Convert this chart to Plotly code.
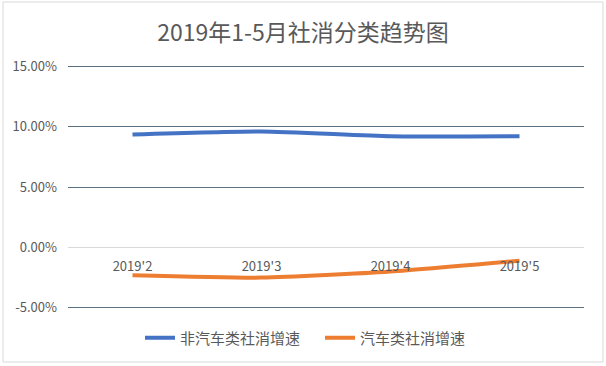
import plotly.graph_objects as go

categories = ["2019'2", "2019'3", "2019'4", "2019'5"]
non_auto = [9.35, 9.6, 9.2, 9.2]
auto = [-2.3, -2.5, -2.0, -1.1]
y_ticks = [-5, 0, 5, 10, 15]
y_tick_labels = ["-5.00%", "0.00%", "5.00%", "10.00%", "15.00%"]

W, H = 606, 366
L, R, T, B = 68, 22, 65, 57
pw, ph = W - L - R, H - T - B
YMIN, YMAX = -5.1, 15.1
FONT = "Noto Sans CJK SC"

def px(x):
    return (x - L) / pw

def py(y):
    return (H - B - y) / ph

fig = go.Figure()
fig.add_trace(go.Scatter(x=categories, y=non_auto, name="非汽车类社消增速", mode="lines",
                         line=dict(color="#4472C4", width=4, shape="spline", smoothing=0.6)))
fig.add_trace(go.Scatter(x=categories, y=auto, name="汽车类社消增速", mode="lines",
                         line=dict(color="#ED7D31", width=4, shape="spline", smoothing=0.6)))

y0_pos = (0 - YMIN) / (YMAX - YMIN)

fig.update_layout(
    width=W, height=H,
    margin=dict(l=L, r=R, t=T, b=B, autoexpand=False),
    paper_bgcolor="white", plot_bgcolor="white",
    font=dict(family=FONT, color="#595959", size=13),
    title=dict(text="2019年1-5月社消分类趋势图", x=0.5, xref="container", xanchor="center",
               yref="container", y=1 - 33 / H, yanchor="middle",
               font=dict(size=23, color="#595959", family=FONT)),
    xaxis=dict(type="category", anchor="free", position=y0_pos, showgrid=False, showline=False,
               zeroline=False, ticks="", tickfont=dict(size=13, color="#595959"),
               range=[-0.5, 3.5], ticklabelstandoff=10),
    yaxis=dict(range=[YMIN, YMAX], tickvals=y_ticks, ticktext=y_tick_labels, showgrid=True,
               gridcolor="#5a6f80", gridwidth=1, zeroline=True, zerolinecolor="#d9d9d9",
               zerolinewidth=1, showline=False, ticks="", tickfont=dict(size=13, color="#595959"),
               ticklabelstandoff=10),
    legend=dict(orientation="h", x=140 / W, xref="container", xanchor="left", yref="container",
                y=1 - 338 / H, yanchor="middle", entrywidth=135,
                font=dict(size=15, color="#595959"), traceorder="normal"),
    showlegend=True,
)

fig.add_shape(type="rect", xref="paper", yref="paper", x0=px(3), x1=px(603), y0=py(362), y1=py(2),
              line=dict(color="#d9d9d9", width=1), fillcolor="rgba(0,0,0,0)", layer="below")

fig.write_html("out.html", config={"displayModeBar": False},
               post_script="document.body.style.margin='0';")
